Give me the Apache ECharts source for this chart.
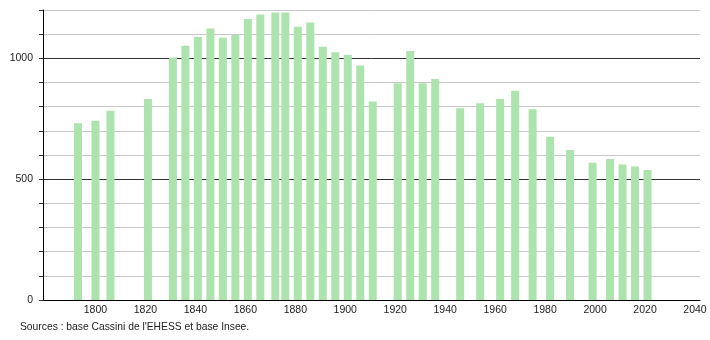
<!DOCTYPE html>
<html>
<head>
<meta charset="utf-8">
<script src="https://cdn.jsdelivr.net/npm/echarts@6/dist/echarts.min.js"></script>
<style>
html,body{margin:0;padding:0;background:#fff;}
#c{width:710px;height:340px;}
</style>
</head>
<body>
<div id="c"></div>
<script>
const years = [1793,1800,1806,1821,1831,1836,1841,1846,1851,1856,1861,1866,1872,1876,1881,1886,1891,1896,1901,1906,1911,1921,1926,1931,1936,1946,1954,1962,1968,1975,1982,1990,1999,2006,2011,2016,2021];
const population = [731,742,783,832,1003,1052,1088,1123,1085,1097,1163,1181,1190,1190,1131,1148,1048,1025,1014,970,821,897,1030,897,914,793,814,832,866,789,676,621,568,583,561,552,538];
const xTickLabels = [1800,1820,1840,1860,1880,1900,1920,1940,1960,1980,2000,2020,2040];
const yTickLabels = [0,500,1000];
const sourceText = "Sources : base Cassini de l'EHESS et base Insee.";

const chart = echarts.init(document.getElementById('c'), null, {renderer:'canvas'});
chart.setOption({
  animation:false,
  backgroundColor:'#ffffff',
  textStyle:{fontFamily:'Liberation Sans, Arial, sans-serif'},
  graphic:[{
    type:'text', left:20, top:322,
    style:{text:sourceText, fill:'#222', font:'10.3px Liberation Sans, Arial, sans-serif'}
  }],
  grid:{left:43, right:10, top:10, bottom:40, containLabel:false},
  xAxis:{
    type:'value', min:1779, max:2042,
    axisLine:{show:true, lineStyle:{color:'#000', width:1}},
    axisTick:{show:false},
    splitLine:{show:false},
    axisLabel:{
      customValues:xTickLabels, color:'#222', fontSize:10.5, margin:5,
      formatter:v=>String(v)
    }
  },
  yAxis:{
    type:'value', min:0, max:1200, interval:100,
    axisLine:{show:true, lineStyle:{color:'#000', width:1}},
    axisTick:{show:true, length:4, lineStyle:{color:'#333'}},
    axisLabel:{
      color:'#222', fontSize:10.5, margin:10,
      formatter:v=>yTickLabels.indexOf(v)>=0 ? String(v) : ''
    },
    splitLine:{show:true, lineStyle:{color:['#333','#c8c8c8','#c8c8c8','#c8c8c8','#c8c8c8'], width:1}}
  },
  series:[{
    type:'bar',
    barWidth:8,
    itemStyle:{color:'#ade3ad'},
    data:years.map((y,i)=>[y,population[i]])
  }]
});
</script>
</body>
</html>
